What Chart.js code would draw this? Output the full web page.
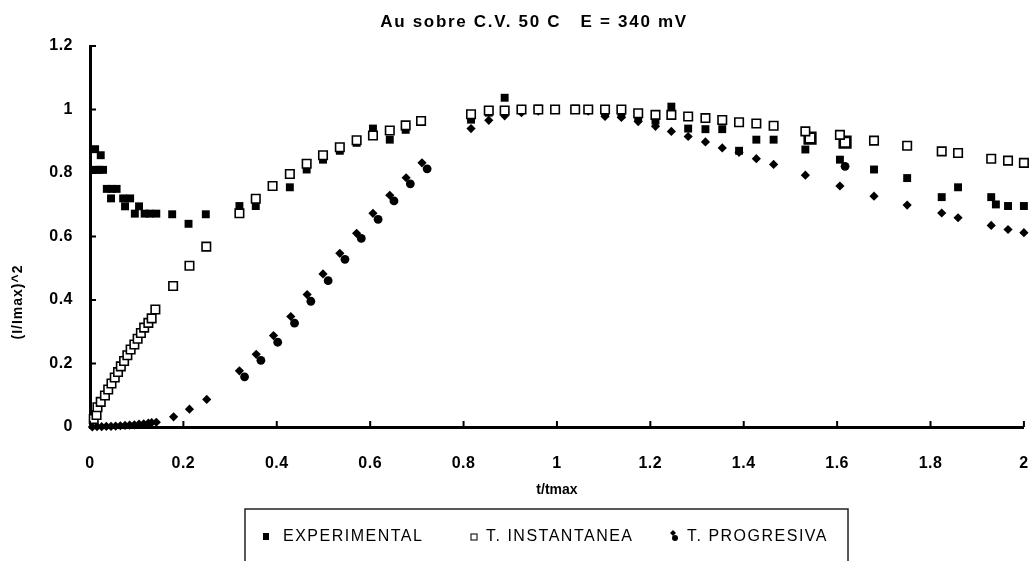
<!DOCTYPE html>
<html>
<head>
<meta charset="utf-8">
<script src="https://cdn.jsdelivr.net/npm/chart.js@4.4.1/dist/chart.umd.min.js"></script>
<style>
  html, body { margin: 0; padding: 0; background: #fff; overflow: hidden; }
  #wrap { width: 1034px; height: 561px; }
</style>
</head>
<body>
<div id="wrap"><canvas id="chart" width="1034" height="561"></canvas></div>
<script>
const FONT = '"Liberation Sans", Arial, sans-serif';

const chartTitle = 'Au sobre C.V. 50 C   E = 340 mV';
const xTitle = 't/tmax';
const yTitle = '(I/Imax)^2';
const xTickLabels = ['0', '0.2', '0.4', '0.6', '0.8', '1', '1.2', '1.4', '1.6', '1.8', '2'];
const yTickLabels = ['0', '0.2', '0.4', '0.6', '0.8', '1', '1.2'];

// EXPERIMENTAL
const expT = [0.011, 0.023, 0.012, 0.02, 0.028, 0.036, 0.046, 0.057, 0.045, 0.071, 0.086, 0.075, 0.105,
  0.096, 0.117, 0.128, 0.142, 0.176, 0.211, 0.248, 0.32, 0.355, 0.428, 0.464, 0.499, 0.535, 0.571,
  0.606, 0.642, 0.676, 0.709, 0.816, 0.854, 0.888, 0.924, 0.96, 0.996, 1.039, 1.067, 1.103, 1.138,
  1.174, 1.211, 1.245, 1.281, 1.318, 1.354, 1.39, 1.427, 1.464, 1.532, 1.606, 1.679, 1.75, 1.824,
  1.859, 1.93, 1.94, 1.966, 2.0];
const expY = [0.875, 0.856, 0.81, 0.81, 0.81, 0.75, 0.75, 0.75, 0.72, 0.72, 0.72, 0.695, 0.695,
  0.672, 0.672, 0.672, 0.672, 0.67, 0.64, 0.67, 0.696, 0.696, 0.755, 0.811, 0.842, 0.87, 0.895,
  0.94, 0.905, 0.936, 0.966, 0.968, 0.99, 1.037, 1.0, 1.003, 1.0, 1.003, 0.998, 0.99, 0.985,
  0.975, 0.965, 1.009, 0.94, 0.938, 0.938, 0.87, 0.905, 0.905, 0.874, 0.842, 0.811, 0.784, 0.724,
  0.755, 0.724, 0.701, 0.696, 0.696];

// T. INSTANTANEA
const instT = [0.008, 0.014, 0.016, 0.023, 0.032, 0.039, 0.046, 0.053, 0.06, 0.066, 0.073, 0.08,
  0.087, 0.095, 0.102, 0.109, 0.116, 0.125, 0.132, 0.14, 0.178, 0.213, 0.249, 0.32, 0.355, 0.391,
  0.428, 0.464, 0.499, 0.535, 0.571, 0.606, 0.642, 0.676, 0.709, 0.816, 0.854, 0.888, 0.924, 0.96,
  0.996, 1.039, 1.067, 1.103, 1.138, 1.174, 1.211, 1.245, 1.281, 1.318, 1.354, 1.39, 1.427, 1.464,
  1.532, 1.606, 1.679, 1.75, 1.824, 1.859, 1.93, 1.966, 2.0];
const instY = [0.025, 0.038, 0.062, 0.079, 0.099, 0.118, 0.137, 0.156, 0.173, 0.191, 0.208, 0.226,
  0.244, 0.26, 0.278, 0.296, 0.313, 0.328, 0.342, 0.37, 0.444, 0.508, 0.568, 0.673, 0.719, 0.759,
  0.797, 0.829, 0.856, 0.881, 0.903, 0.918, 0.934, 0.95, 0.964, 0.985, 0.997, 0.997, 1.0, 1.0,
  1.0, 1.0, 1.0, 1.0, 1.0, 0.988, 0.983, 0.983, 0.978, 0.973, 0.967, 0.96, 0.956, 0.949,
  0.931, 0.92, 0.902, 0.886, 0.868, 0.863, 0.845, 0.839, 0.832];
// heavier open squares near t = 1.55 and 1.62
const instBoldT = [1.542, 1.617];
const instBoldY = [0.91, 0.897];

// T. PROGRESIVA
const progT = [0.005, 0.015, 0.025, 0.035, 0.045, 0.055, 0.065, 0.075, 0.085, 0.095, 0.105, 0.115,
  0.125, 0.132, 0.142, 0.179, 0.213, 0.25, 0.32, 0.356, 0.393, 0.43, 0.465, 0.499, 0.535, 0.571,
  0.606, 0.642, 0.677, 0.711, 0.816, 0.854, 0.888, 0.924, 0.96, 0.996, 1.039, 1.067, 1.103, 1.138,
  1.174, 1.211, 1.245, 1.281, 1.318, 1.354, 1.39, 1.427, 1.464, 1.532, 1.606, 1.679, 1.75, 1.824,
  1.859, 1.93, 1.966, 2.0];
const progY = [0.0, 0.001, 0.001, 0.002, 0.002, 0.003, 0.004, 0.005, 0.006, 0.007, 0.009, 0.01,
  0.012, 0.014, 0.015, 0.032, 0.056, 0.087, 0.177, 0.229, 0.288, 0.348, 0.417, 0.482, 0.547, 0.61,
  0.673, 0.73, 0.785, 0.832, 0.94, 0.966, 0.98, 0.99, 0.995, 1.0, 1.0, 0.995, 0.978, 0.975,
  0.962, 0.947, 0.931, 0.915, 0.898, 0.879, 0.865, 0.845, 0.827, 0.793, 0.759, 0.727, 0.699, 0.674,
  0.659, 0.635, 0.622, 0.612];
// round dots printed next to the progressive points
const dotT = [0.331, 0.366, 0.402, 0.438, 0.473, 0.51, 0.546, 0.581, 0.617, 0.651, 0.686, 0.722, 1.617];
const dotY = [0.158, 0.21, 0.267, 0.327, 0.396, 0.461, 0.528, 0.594, 0.654, 0.712, 0.766, 0.813, 0.821];

const pts = (t, v) => t.map((x, i) => ({ x, y: v[i] }));

// boxed legend under the axis, plus titles and inward tick marks
const decor = {
  id: 'decor',
  beforeDraw(chart) {
    chart.ctx.letterSpacing = '0.5px';
  },
  afterDraw(chart) {
    const { ctx, chartArea: a, scales: { x, y } } = chart;
    ctx.save();
    ctx.letterSpacing = '0px';
    ctx.strokeStyle = '#000';
    ctx.fillStyle = '#000';
    ctx.lineWidth = 2;
    ctx.beginPath();
    x.ticks.forEach(t => {
      const px = x.getPixelForValue(t.value);
      ctx.moveTo(px, a.bottom); ctx.lineTo(px, a.bottom - 6);
    });
    y.ticks.forEach(t => {
      const py = y.getPixelForValue(t.value);
      ctx.moveTo(a.left, py); ctx.lineTo(a.left + 6, py);
    });
    ctx.stroke();

    ctx.textAlign = 'center';
    ctx.textBaseline = 'middle';
    ctx.letterSpacing = '1.7px';
    ctx.font = 'bold 17px ' + FONT;
    ctx.fillText(chartTitle, 534, 22);
    ctx.font = 'bold 14px ' + FONT;
    ctx.letterSpacing = '0px';
    ctx.fillText(xTitle, (a.left + a.right) / 2, 490);
    ctx.save();
    ctx.translate(18, 302);
    ctx.rotate(-Math.PI / 2);
    ctx.font = 'bold 14px ' + FONT;
    ctx.letterSpacing = '1px';
    ctx.fillText(yTitle, 0, 0);
    ctx.restore();

    // legend frame
    ctx.lineWidth = 1.5;
    ctx.strokeStyle = '#222';
    ctx.strokeRect(245, 509, 603, 80);
    const markX = [266, 474, 674];
    const textX = [283, 486, 687];
    const ly = 537;
    ctx.font = '16px ' + FONT;
    ctx.letterSpacing = '1.5px';
    ctx.textAlign = 'left';
    chart.data.datasets.filter(d => d.label).forEach((d, i) => {
      const mx = markX[i];
      if (d.pointStyle === 'rect' && d.backgroundColor === '#000') {
        ctx.fillRect(mx - 3, ly - 4, 6, 7);
      } else if (d.pointStyle === 'rect') {
        ctx.lineWidth = 1.2;
        ctx.strokeRect(mx - 3, ly - 3, 6, 6);
      } else {
        ctx.beginPath();
        ctx.moveTo(mx - 1, ly - 7); ctx.lineTo(mx + 2, ly - 4); ctx.lineTo(mx - 1, ly - 1); ctx.lineTo(mx - 4, ly - 4);
        ctx.closePath(); ctx.fill();
        ctx.beginPath(); ctx.arc(mx + 1, ly + 1, 3, 0, Math.PI * 2); ctx.fill();
      }
      ctx.fillText(d.label, textX[i], ly);
    });
    ctx.restore();
  }
};

new Chart(document.getElementById('chart'), {
  type: 'scatter',
  data: {
    datasets: [
      {
        label: 'EXPERIMENTAL', data: pts(expT, expY), order: 2,
        pointStyle: 'rect', pointRadius: 5.6, backgroundColor: '#000', borderColor: '#000', borderWidth: 0
      },
      {
        label: 'T. INSTANTANEA', data: pts(instT, instY), order: 0,
        pointStyle: 'rect', pointRadius: 6, backgroundColor: '#fff', borderColor: '#000', borderWidth: 1.6
      },
      {
        label: 'T. PROGRESIVA', data: pts(progT, progY), order: 3,
        pointStyle: 'rectRot', pointRadius: 4.6, backgroundColor: '#000', borderColor: '#000', borderWidth: 0
      },
      {
        data: pts(instBoldT, instBoldY), order: 1,
        pointStyle: 'rect', pointRadius: 7.5, backgroundColor: '#fff', borderColor: '#000', borderWidth: 2.6
      },
      {
        data: pts(dotT, dotY), order: 4,
        pointStyle: 'circle', pointRadius: 4.4, backgroundColor: '#000', borderColor: '#000', borderWidth: 0
      }
    ]
  },
  options: {
    responsive: false,
    animation: false,
    events: [],
    clip: false,
    layout: { padding: { top: 46, right: 0, left: 0, bottom: 0 } },
    plugins: { legend: { display: false }, tooltip: { enabled: false }, title: { display: false } },
    scales: {
      x: {
        type: 'linear', min: 0, max: 2,
        afterFit: s => { s.height = 134; s.paddingLeft = 0; s.paddingRight = 7; },
        grid: { display: false, drawTicks: false },
        border: { display: true, color: '#000', width: 3 },
        ticks: {
          stepSize: 0.2, padding: 27, color: '#000', maxRotation: 0, autoSkip: false,
          font: { family: FONT, size: 16, weight: 'bold' },
          callback: (v, i) => xTickLabels[i]
        }
      },
      y: {
        type: 'linear', min: 0, max: 1.2,
        afterFit: s => { s.width = 90; s.paddingTop = 0; s.paddingBottom = 0; },
        grid: { display: false, drawTicks: false },
        border: { display: true, color: '#000', width: 3 },
        ticks: {
          stepSize: 0.2, padding: 17, color: '#000',
          font: { family: FONT, size: 16, weight: 'bold' },
          callback: (v, i) => yTickLabels[i]
        }
      }
    }
  },
  plugins: [decor]
});
</script>
</body>
</html>
